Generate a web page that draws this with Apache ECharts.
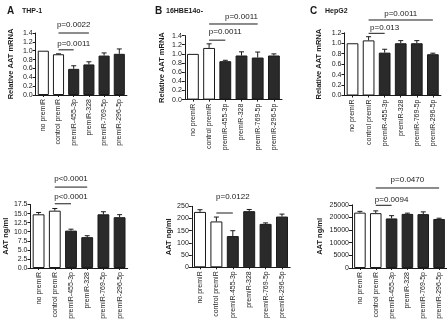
<!DOCTYPE html>
<html><head><meta charset="utf-8">
<script src="https://cdn.jsdelivr.net/npm/echarts@6/dist/echarts.min.js"></script>
<style>html,body{margin:0;padding:0;background:#fff}#c{width:447px;height:326px}</style>
</head><body><div id="c"></div>
<script>
const categories = ['no premiR','control premiR','premiR-455-3p','premiR-328','premiR-769-5p','premiR-296-5p'];

const thp1Mrna = [1.0, 0.92, 0.59, 0.69, 0.89, 0.93];
const thp1MrnaErr = [0, 0.01, 0.07, 0.06, 0.06, 0.11];
const hbeMrna = [1.0, 1.13, 0.84, 0.965, 0.92, 0.965];
const hbeMrnaErr = [0, 0.09, 0.02, 0.08, 0.12, 0.035];
const hepMrna = [1.0, 1.055, 0.82, 1.0, 1.0, 0.79];
const hepMrnaErr = [0, 0.07, 0.065, 0.05, 0.05, 0.02];

const thp1Prot = [14.8, 15.8, 10.3, 8.5, 14.8, 14.0];
const thp1ProtErr = [0.5, 0.6, 0.4, 0.4, 0.7, 0.7];
const hbeProt = [227, 188, 128, 230, 178, 208];
const hbeProtErr = [9, 18, 22, 7, 4, 10];
const hepProt = [21900, 21700, 19600, 21400, 21300, 19400];
const hepProtErr = [500, 900, 1100, 300, 900, 300];

const yTicksMrnaA = [0, 1.4, 0.2];
const yTicksMrnaB = [0, 1.4, 0.2];
const yTicksMrnaC = [0, 1.2, 0.2];
const yTicksProtA = [0, 17.5, 2.5];
const yTicksProtB = [0, 250, 50];
const yTicksProtC = [0, 25000, 5000];

const bracketsA1 = [{from:1,to:3,y:1.4,ty:1.58,label:'p=0.0022'},{from:1,to:2,y:1.02,ty:1.15,label:'p=0.0011'}];
const bracketsB1 = [{from:1,to:4,y:1.654,ty:1.807,label:'p=0.0011'},{from:1,to:2,y:1.30,ty:1.479,label:'p=0.0011'}];
const bracketsC1 = [{from:1,to:5,y:1.445,ty:1.56,label:'p=0.0011'},{from:1,to:2,y:1.19,ty:1.29,label:'p=0.013'}];
const bracketsA2 = [{from:1,to:3,y:22.3,ty:24.5,label:'p<0.0001'},{from:1,to:2,y:17.7,ty:19.6,label:'p<0.0001'}];
const bracketsB2 = [{from:1,to:2,y:222.5,ty:287,label:'p=0.0122'}];
const bracketsC2 = [{from:1,to:5,y:31650,ty:34900,label:'p=0.0470'},{from:1,to:2,y:24800,ty:27000,label:'p=0.0094'}];

const panels = [
  {vals:thp1Mrna, err:thp1MrnaErr, ticks:yTicksMrnaA, dec:1, name:'Relative AAT mRNA', br:bracketsA1,
   grid:{left:35.7, top:33, width:91.2, height:62}, gap:21},
  {vals:hbeMrna, err:hbeMrnaErr, ticks:yTicksMrnaB, dec:1, name:'Relative AAT mRNA', br:bracketsB1,
   grid:{left:184.8, top:35.6, width:97.2, height:64}, gap:19},
  {vals:hepMrna, err:hepMrnaErr, ticks:yTicksMrnaC, dec:1, name:'Relative AAT mRNA', br:bracketsC1,
   grid:{left:344.5, top:32.8, width:96.4, height:62.7}, gap:22},
  {vals:thp1Prot, err:thp1ProtErr, ticks:yTicksProtA, dec:1, name:'AAT ng/ml', br:bracketsA2,
   grid:{left:30.5, top:204.5, width:97.2, height:63.5}, gap:13},
  {vals:hbeProt, err:hbeProtErr, ticks:yTicksProtB, dec:0, name:'AAT ng/ml', br:bracketsB2,
   grid:{left:191.8, top:206.3, width:98.4, height:61}, gap:19},
  {vals:hepProt, err:hepProtErr, ticks:yTicksProtC, dec:0, name:'AAT ng/ml', br:bracketsC2,
   grid:{left:352, top:204.8, width:96.6, height:63.2}, gap:28}
];

const FONT = 'Liberation Sans, Arial, sans-serif';
const ink = '#1a1a1a';

const option = {
  animation:false,
  backgroundColor:'#fff',
  title: [
    {text:'A', left:2, top:1, textStyle:{fontSize:10, fontWeight:'bold', color:ink, fontFamily:FONT}},
    {text:'THP-1', left:17, top:3, textStyle:{fontSize:7, fontWeight:'bold', color:ink, fontFamily:FONT}},
    {text:'B', left:150, top:1, textStyle:{fontSize:10, fontWeight:'bold', color:ink, fontFamily:FONT}},
    {text:'16HBE14o-', left:161, top:3, textStyle:{fontSize:7, fontWeight:'bold', color:ink, fontFamily:FONT}},
    {text:'C', left:305, top:1, textStyle:{fontSize:10, fontWeight:'bold', color:ink, fontFamily:FONT}},
    {text:'HepG2', left:320, top:3, textStyle:{fontSize:7, fontWeight:'bold', color:ink, fontFamily:FONT}}
  ],
  grid: panels.map(p => Object.assign({containLabel:false}, p.grid)),
  xAxis: panels.map((p,i) => ({
    type:'category', gridIndex:i, data:categories,
    axisLine:{lineStyle:{color:ink, width:1}},
    axisTick:{show:true, alignWithLabel:true, length:2, lineStyle:{color:ink}},
    axisLabel:{rotate:90, fontSize:7, color:ink, fontFamily:FONT, margin:4, interval:0}
  })),
  yAxis: panels.map((p,i) => ({
    type:'value', gridIndex:i, min:p.ticks[0], max:p.ticks[1], interval:p.ticks[2],
    name:p.name, nameLocation:'middle', nameRotate:90, nameGap:p.gap,
    nameTextStyle:{fontSize:7.5, fontWeight:'bold', color:ink, fontFamily:FONT},
    axisLine:{show:true, lineStyle:{color:ink, width:1}},
    axisTick:{show:true, length:3, lineStyle:{color:ink}},
    splitLine:{show:false},
    axisLabel:{fontSize:7, color:ink, fontFamily:FONT, margin:3,
      formatter: v => v.toFixed(p.dec)}
  })),
  series: []
};

panels.forEach((p,i) => {
  option.series.push({
    type:'bar', xAxisIndex:i, yAxisIndex:i, barCategoryGap:'27%',
    data: p.vals.map((v,k) => ({value:v, itemStyle:{color: k<2 ? '#ffffff' : '#2a2a2a', borderColor:ink, borderWidth:1}})),
    silent:true
  });
  option.series.push({
    type:'custom', xAxisIndex:i, yAxisIndex:i, z:3, silent:true,
    data: p.vals.map((v,k) => [k, v, p.err[k]]),
    renderItem: (params, api) => {
      const e = api.value(2);
      if (!e) return null;
      const b = api.coord([api.value(0), api.value(1)]);
      const t = api.coord([api.value(0), api.value(1) + e]);
      const w = 2.5;
      return {type:'group', children:[
        {type:'line', shape:{x1:b[0], y1:b[1], x2:t[0], y2:t[1]}, style:{stroke:ink, lineWidth:1}},
        {type:'line', shape:{x1:t[0]-w, y1:t[1], x2:t[0]+w, y2:t[1]}, style:{stroke:ink, lineWidth:1}}
      ]};
    }
  });
});

const chart = echarts.init(document.getElementById('c'), null, {renderer:'canvas'});
chart.setOption(option);

const g = [];
panels.forEach((p,i) => {
  p.br.forEach(b => {
    const a = chart.convertToPixel({gridIndex:i}, [b.from, b.y]);
    const c = chart.convertToPixel({gridIndex:i}, [b.to, b.y]);
    const t = chart.convertToPixel({gridIndex:i}, [(b.from+b.to)/2, b.ty]);
    g.push({type:'line', shape:{x1:a[0], y1:a[1], x2:c[0], y2:c[1]}, style:{stroke:ink, lineWidth:1}, silent:true});
    g.push({type:'text', x:t[0], y:t[1], style:{text:b.label, fontSize:8, fontFamily:FONT, fill:ink, align:'center', verticalAlign:'middle'}, silent:true});
  });
});
chart.setOption({graphic: g});
</script>
</body></html>
